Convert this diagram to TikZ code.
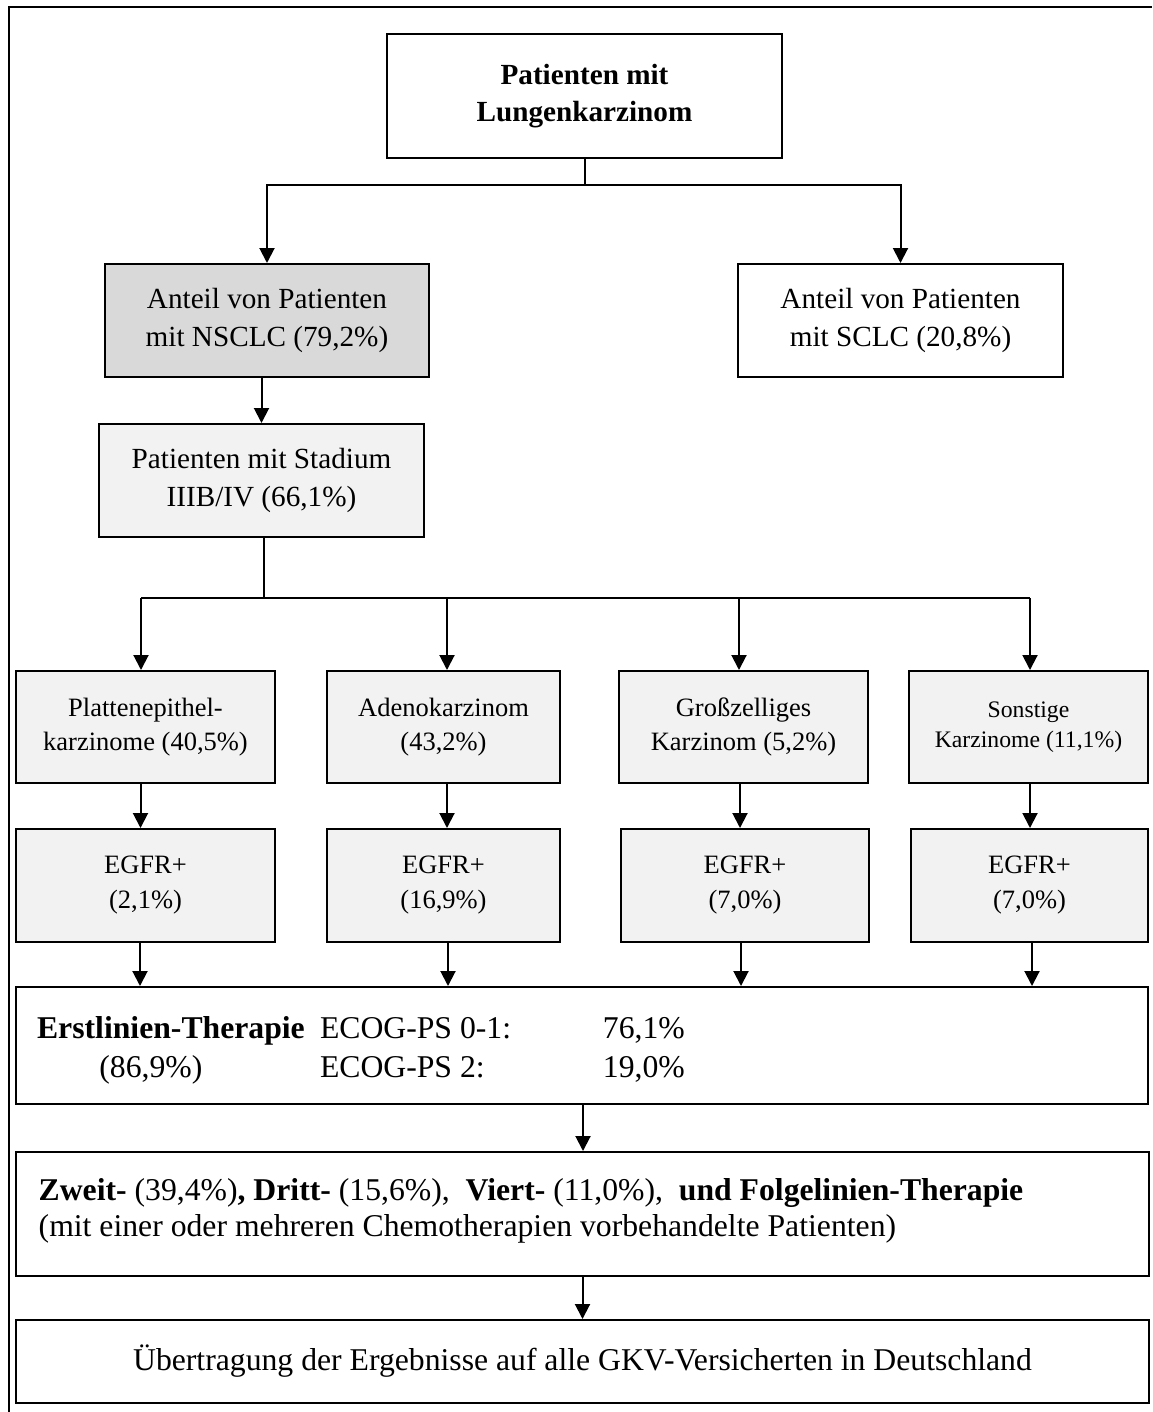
\documentclass[tikz,border=0pt]{standalone}
\usepackage{fontspec}
\setmainfont{Liberation Serif}
\usetikzlibrary{arrows.meta,calc}
\definecolor{greyA}{HTML}{D9D9D9}
\definecolor{greyB}{HTML}{F2F2F2}
\newcommand\fsTop{\fontsize{14.6pt}{18.6pt}\selectfont}
\newcommand\fsRow{\fontsize{13.25pt}{17pt}\selectfont}
\newcommand\fsEg{\fontsize{13.25pt}{17.5pt}\selectfont}
\newcommand\fsSon{\fontsize{11.85pt}{15pt}\selectfont}
\newcommand\fsBig{\fontsize{15.85pt}{19.5pt}\selectfont}
\begin{document}
\begin{tikzpicture}[x=0.5pt,y=-0.5pt,
  box/.style={draw=black,line width=1pt,rectangle,inner sep=0pt,align=center,text=black},
  toprow/.style={box,font=\fsTop,minimum height=56.5pt},
  rowbox/.style={box,fill=greyB,font=\fsRow,minimum height=56pt},
  egbox/.style={box,fill=greyB,font=\fsEg,minimum height=56.5pt},
  widebox/.style={box,fill=white,font=\fsBig,minimum width=566.5pt},
  txt/.style={inner sep=0pt,anchor=base west,font=\fsBig,text=black},
  ln/.style={line width=1pt},
  arr/.style={line width=1pt,-{Triangle[width=7.5pt,length=7.5pt]}},
]
\useasboundingbox (0,0) rectangle (1152,1412);
% outer frame (cut at right and bottom)
\draw[line width=1pt] (8.5,1412) -- (8.5,7.3) -- (1152,7.3);

% top
\node[box,font=\fsTop\bfseries,minimum width=197.5pt,minimum height=62pt] (top) at (584.5,96) {Patienten mit\\Lungenkarzinom};
\node[toprow,fill=greyA,minimum width=162pt] (nsclc) at (267,320.5) {Anteil von Patienten\\mit NSCLC (79,2\%)};
\node[toprow,fill=white,minimum width=162.5pt] (sclc) at (900.5,320.5) {Anteil von Patienten\\mit SCLC (20,8\%)};
\node[toprow,fill=greyB,minimum width=162.5pt] (stad) at (261.5,480.5) {Patienten mit Stadium\\IIIB/IV (66,1\%)};

% histology row
\node[rowbox,minimum width=129.5pt] (r1) at (145.5,727) {Plattenepithel-\\karzinome (40,5\%)};
\node[rowbox,minimum width=116.5pt] (r2) at (443.5,727) {Adenokarzinom\\(43,2\%)};
\node[rowbox,minimum width=124.5pt] (r3) at (743.5,727) {Großzelliges\\Karzinom (5,2\%)};
\node[rowbox,font=\fsSon,minimum width=119.5pt] (r4) at (1028.5,727) {Sonstige\\Karzinome (11,1\%)};

% EGFR row
\node[egbox,minimum width=129.5pt] (e1) at (145.5,885.5) {EGFR+\\(2,1\%)};
\node[egbox,minimum width=116.5pt] (e2) at (443.5,885.5) {EGFR+\\(16,9\%)};
\node[egbox,minimum width=124pt] (e3) at (745,885.5) {EGFR+\\(7,0\%)};
\node[egbox,minimum width=118.5pt] (e4) at (1029.5,885.5) {EGFR+\\(7,0\%)};

% wide boxes
\node[widebox,minimum width=566pt,minimum height=58.5pt] (erst) at (582,1045.5) {};
\node[txt] (t1) at (36.7,1038) {\textbf{Erstlinien-Therapie}};
\node[txt] (t2) at (319.6,1038) {ECOG-PS 0-1:};
\node[txt] (t3) at (602.5,1038) {76,1\%};
\node[txt] (t4) at (99,1077) {(86,9\%)};
\node[txt] (t5) at (319.6,1077) {ECOG-PS 2:};
\node[txt] (t6) at (602.5,1077) {19,0\%};

\node[widebox,minimum height=62pt] (zweit) at (582.5,1214) {};
\node[txt] (z1) at (38.3,1200) {\textbf{Zweit-} (39,4\%)\textbf{, Dritt-} (15,6\%),\ \ \textbf{Viert-} (11,0\%),\ \ \textbf{und Folgelinien-Therapie}};
\node[txt] (z2) at (38.3,1236.7) {(mit einer oder mehreren Chemotherapien vorbehandelte Patienten)};

\node[widebox,minimum height=41.5pt] (ueb) at (582.5,1361.5) {Übertragung der Ergebnisse auf alle GKV-Versicherten in Deutschland};

% connectors
\coordinate (j1) at (584.5,185.5);
\draw[ln] (top.south) -- (j1);
\draw[arr] (j1) -| (nsclc.north);
\draw[arr] (j1) -| (sclc.north);
\draw[arr] (stad.north |- nsclc.south) -- (stad.north);

\coordinate (a1) at (141,598);
\coordinate (a2) at (447,598);
\coordinate (a3) at (739,598);
\coordinate (a4) at (1030,598);
\draw[ln] ([xshift=1.25pt]stad.south) -- ([xshift=1.25pt]stad.south |- a1);
\draw[ln] (a1) -- (a4);
\draw[arr] (a1) -- (a1 |- r1.north);
\draw[arr] (a2) -- (a2 |- r2.north);
\draw[arr] (a3) -- (a3 |- r3.north);
\draw[arr] (a4) -- (a4 |- r4.north);

\draw[arr] ([xshift=-2.5pt]r1.south) -- ([xshift=-2.5pt]r1.south |- e1.north);
\draw[arr] ([xshift=1.75pt]r2.south) -- ([xshift=1.75pt]r2.south |- e2.north);
\draw[arr] ([xshift=-1.75pt]r3.south) -- ([xshift=-1.75pt]r3.south |- e3.north);
\draw[arr] ([xshift=0.75pt]r4.south) -- ([xshift=0.75pt]r4.south |- e4.north);

\draw[arr] ([xshift=-2.75pt]e1.south) -- ([xshift=-2.75pt]e1.south |- erst.north);
\draw[arr] ([xshift=2.25pt]e2.south) -- ([xshift=2.25pt]e2.south |- erst.north);
\draw[arr] ([xshift=-2pt]e3.south) -- ([xshift=-2pt]e3.south |- erst.north);
\draw[arr] ([xshift=1.25pt]e4.south) -- ([xshift=1.25pt]e4.south |- erst.north);

\draw[arr] ([xshift=0.5pt]erst.south) -- ([xshift=0.5pt]erst.south |- zweit.north);
\draw[arr] (zweit.south) -- (zweit.south |- ueb.north);
\end{tikzpicture}
\end{document}
